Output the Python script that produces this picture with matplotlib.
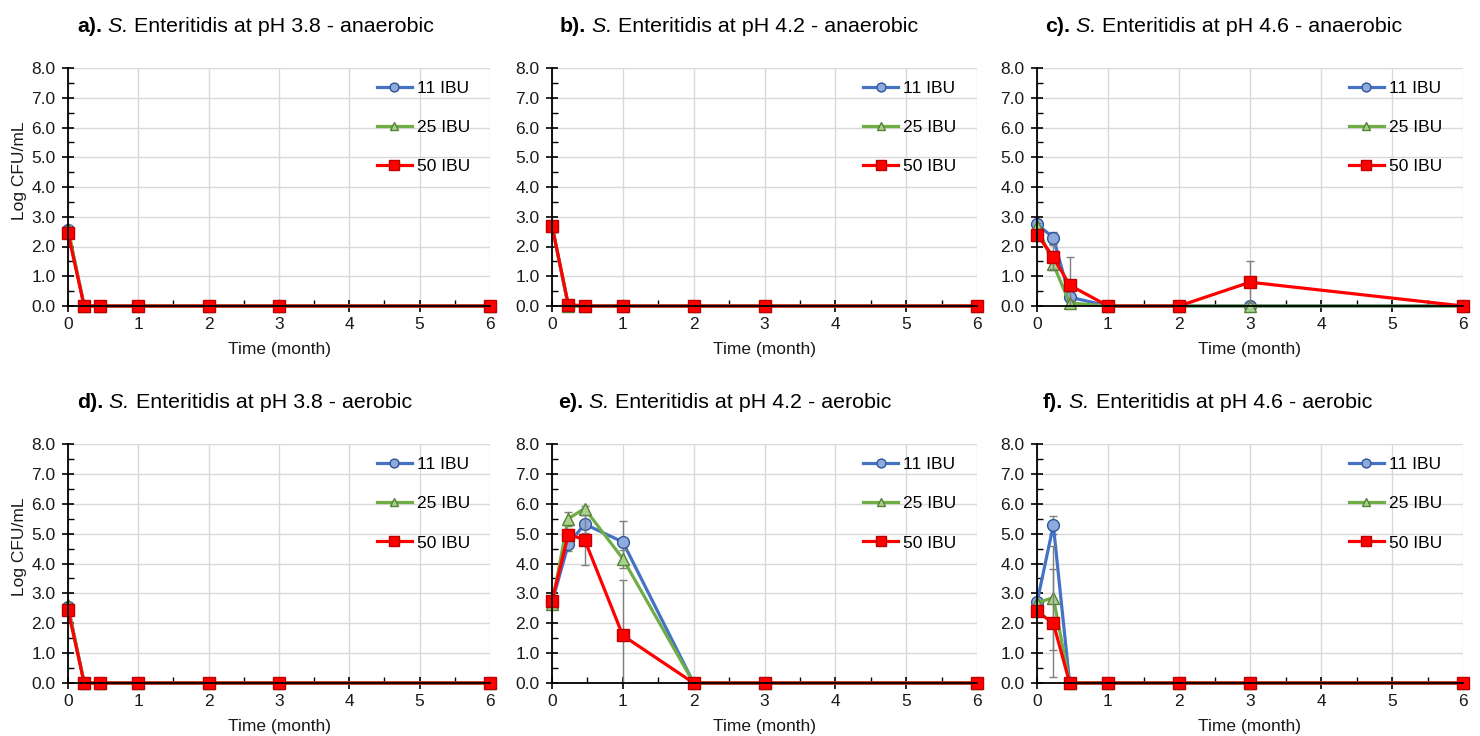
import matplotlib
matplotlib.use("Agg")
import matplotlib.pyplot as plt
from matplotlib.ticker import MultipleLocator, FormatStrFormatter
from matplotlib.transforms import offset_copy

plt.rcParams['font.family'] = ['Liberation Sans', 'DejaVu Sans']

# ---------------- data ----------------
time = [0, 0.23, 0.46, 1, 2, 3, 6]
series_labels = ["11 IBU", "25 IBU", "50 IBU"]
panel_letters = ["a", "b", "c", "d", "e", "f"]
panel_ph = ["3.8", "4.2", "4.6", "3.8", "4.2", "4.6"]
panel_cond = ["anaerobic", "anaerobic", "anaerobic", "aerobic", "aerobic", "aerobic"]

a_11 = [2.55, 0, 0, 0, 0, 0, 0]
a_25 = [2.60, 0, 0, 0, 0, 0, 0]
a_50 = [2.45, 0, 0, 0, 0, 0, 0]
a_11_sd = [0.15, 0, 0, 0, 0, 0, 0]
a_25_sd = [0.12, 0, 0, 0, 0, 0, 0]
a_50_sd = [0.10, 0, 0, 0, 0, 0, 0]

b_11 = [2.70, 0, 0, 0, 0, 0, 0]
b_25 = [2.70, 0, 0, 0, 0, 0, 0]
b_50 = [2.70, 0.05, 0, 0, 0, 0, 0]
b_11_sd = [0.15, 0, 0, 0, 0, 0, 0]
b_25_sd = [0.15, 0.20, 0, 0, 0, 0, 0]
b_50_sd = [0.10, 0.15, 0, 0, 0, 0, 0]

c_11 = [2.75, 2.30, 0.30, 0, 0, 0, 0]
c_25 = [2.70, 1.40, 0.10, 0, 0, 0, 0]
c_50 = [2.40, 1.65, 0.70, 0, 0, 0.80, 0]
c_11_sd = [0.10, 0.20, 0.20, 0, 0, 0, 0]
c_25_sd = [0.10, 0.20, 0.10, 0, 0, 0, 0]
c_50_sd = [0.20, 0.40, 0.96, 0, 0, 0.70, 0]

d_11 = [2.55, 0, 0, 0, 0, 0, 0]
d_25 = [2.60, 0, 0, 0, 0, 0, 0]
d_50 = [2.45, 0, 0, 0, 0, 0, 0]
d_11_sd = [0.15, 0, 0, 0, 0, 0, 0]
d_25_sd = [0.12, 0, 0, 0, 0, 0, 0]
d_50_sd = [0.10, 0, 0, 0, 0, 0, 0]

e_11 = [2.70, 4.64, 5.32, 4.72, 0, 0, 0]
e_25 = [2.65, 5.50, 5.84, 4.16, 0, 0, 0]
e_50 = [2.75, 4.97, 4.80, 1.59, 0, 0, 0]
e_11_sd = [0.10, 0.22, 0.30, 0.70, 0, 0, 0]
e_25_sd = [0.10, 0.24, 0.10, 0.30, 0, 0, 0]
e_50_sd = [0.10, 0.20, 0.84, 1.85, 0, 0, 0]

f_11 = [2.70, 5.28, 0, 0, 0, 0, 0]
f_25 = [2.68, 2.86, 0, 0, 0, 0, 0]
f_50 = [2.40, 2.00, 0, 0, 0, 0, 0]
f_11_sd = [0.10, 0.30, 0, 0, 0, 0, 0]
f_25_sd = [0.10, 1.74, 0, 0, 0, 0, 0]
f_50_sd = [0.10, 1.80, 0, 0, 0, 0, 0]

panel_means = [(a_11, a_25, a_50), (b_11, b_25, b_50), (c_11, c_25, c_50),
               (d_11, d_25, d_50), (e_11, e_25, e_50), (f_11, f_25, f_50)]
panel_sds = [(a_11_sd, a_25_sd, a_50_sd), (b_11_sd, b_25_sd, b_50_sd), (c_11_sd, c_25_sd, c_50_sd),
             (d_11_sd, d_25_sd, d_50_sd), (e_11_sd, e_25_sd, e_50_sd), (f_11_sd, f_25_sd, f_50_sd)]

# ---------------- style ----------------
line_colors = ["#4472C4", "#70AD47", "#FF0000"]
face_colors = ["#8FAADC", "#A9D18E", "#FF0000"]
edge_colors = ["#2F5597", "#548235", "#C00000"]
markers = ["o", "^", "s"]
msizes = [8.5, 8.5, 9]
SMALL = 12.5
TXT = "#1A1A1A"

W, H = 1480, 736
fig = plt.figure(figsize=(W / 100, H / 100), dpi=100)
renderer = fig.canvas.get_renderer()

ax_left_px = [68, 552, 1037]
ax_right_px = [490, 977, 1463]
row_top_px = [68, 444]
row_bot_px = [306, 683]
title_x_px = [77, 560, 1045, 77, 558, 1043]
title_y_px = [27, 403]

for i in range(6):
    r, c = divmod(i, 3)
    l = ax_left_px[c] / W
    w = (ax_right_px[c] - ax_left_px[c]) / W
    b = 1 - row_bot_px[r] / H
    h = (row_bot_px[r] - row_top_px[r]) / H
    ax = fig.add_axes([l, b, w, h])

    for k in range(3):
        ax.errorbar(time, panel_means[i][k], yerr=panel_sds[i][k],
                    fmt="none", ecolor="#7F7F7F", elinewidth=1.0, capsize=3,
                    capthick=1.0, zorder=2 + k)
        ax.plot(time, panel_means[i][k], color=line_colors[k], lw=2.3,
                marker=markers[k], ms=msizes[k], mfc=face_colors[k],
                mec=edge_colors[k], mew=1.0, label=series_labels[k],
                clip_on=False, zorder=3 + k)

    ax.set_xlim(0, 6)
    ax.set_ylim(0, 8)
    ax.xaxis.set_major_locator(MultipleLocator(1))
    ax.xaxis.set_minor_locator(MultipleLocator(0.5))
    ax.yaxis.set_major_locator(MultipleLocator(1))
    ax.yaxis.set_minor_locator(MultipleLocator(0.5))
    ax.yaxis.set_major_formatter(FormatStrFormatter("%.1f"))
    ax.grid(True, which="major", color="#D9D9D9", lw=1.0, zorder=0)
    ax.set_axisbelow(True)
    for s in ["top", "right"]:
        ax.spines[s].set_visible(False)
    for s in ["left", "bottom"]:
        ax.spines[s].set_color("black")
        ax.spines[s].set_linewidth(1.3)
        ax.spines[s].set_zorder(6)
    ax.tick_params(which="major", direction="inout", length=8, width=1.2,
                   labelsize=SMALL, color="black", labelcolor=TXT)
    ax.tick_params(axis="y", which="major", pad=5)
    ax.tick_params(axis="x", which="major", pad=4)
    ax.tick_params(which="minor", direction="in", length=4, width=1.0, color="black")

    ax.set_xlabel("Time (month)", fontsize=SMALL, color=TXT)
    ax.xaxis.set_label_coords(0.5, -0.15)
    ax.xaxis.label.set_va("top")
    if c == 0:
        ax.set_ylabel("Log CFU/mL", fontsize=SMALL, color=TXT)
        ax.yaxis.set_label_coords(-0.114, 0.57)
        ax.yaxis.label.set_va("center")

    ax.legend(loc="upper left", bbox_to_anchor=(0.7315, 0.945), frameon=False,
              fontsize=SMALL, handlelength=2.05, handletextpad=0.25, labelspacing=1.38,
              borderpad=0, borderaxespad=0, markerscale=0.75)

    # title in three runs: bold letter, italic genus, regular rest
    x0 = title_x_px[i] / W
    y0 = 1 - title_y_px[r] / H
    parts = [(panel_letters[i] + ").", "bold", "normal"),
             (" S.", "normal", "italic"),
             (" Enteritidis at pH " + panel_ph[i] + " - " + panel_cond[i], "normal", "normal")]
    trans = fig.transFigure
    for txt, wgt, sty in parts:
        t = fig.text(x0, y0, txt, fontsize=15.4, fontweight=wgt, fontstyle=sty,
                     ha="left", va="center", color="black", transform=trans)
        bb = t.get_window_extent(renderer=renderer)
        trans = offset_copy(trans, fig=fig, x=bb.width, y=0, units="dots")

fig.savefig("out.png", dpi=100)
